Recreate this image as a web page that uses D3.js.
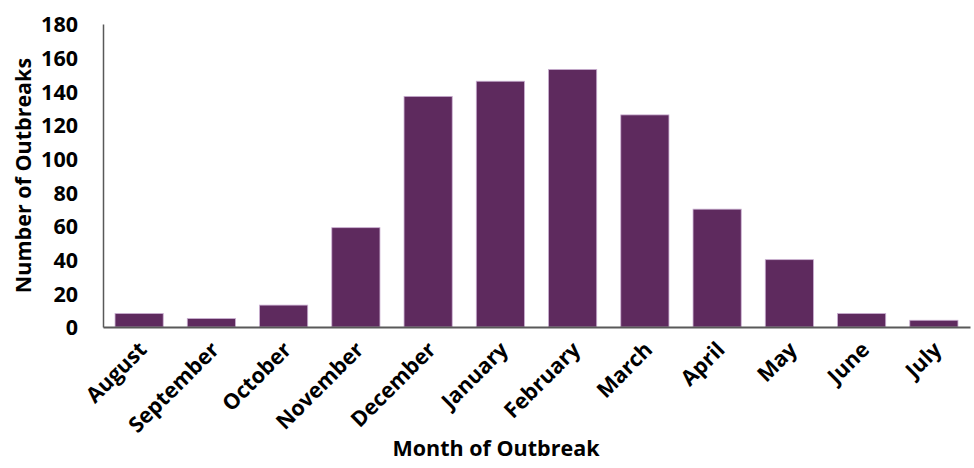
<!DOCTYPE html>
<html>
<head>
<meta charset="utf-8">
<script src="https://cdn.jsdelivr.net/npm/d3@7"></script>
<style>
  body { margin: 0; background: #fff; }
  text { font-family: "Open Sans", sans-serif; font-weight: 700; fill: #000; }
</style>
</head>
<body>
<div id="chart"></div>
<script>
// month order starts at August (season year)
const months = ['August', 'September', 'October', 'November', 'December', 'January',
  'February', 'March', 'April', 'May', 'June', 'July'];
const outbreaks = [8, 5, 13, 59, 137, 146, 153, 126, 70, 40, 8, 4];
const yTicks = [0, 20, 40, 60, 80, 100, 120, 140, 160, 180];

const width = 974, height = 468;
const margin = { top: 24, right: 4, bottom: 141, left: 103 };
const fontSize = '21.5px';

const svg = d3.select('#chart')
  .append('svg')
  .attr('width', width)
  .attr('height', height);

const x = d3.scaleBand()
  .domain(months)
  .range([margin.left, width - margin.right])
  .paddingInner(1 / 3)
  .paddingOuter(1 / 6);

const y = d3.scaleLinear()
  .domain([0, 180])
  .range([height - margin.bottom, margin.top]);

// bars
svg.append('g')
  .selectAll('rect')
  .data(months)
  .join('rect')
  .attr('x', d => x(d))
  .attr('y', (d, i) => y(outbreaks[i]))
  .attr('width', x.bandwidth())
  .attr('height', (d, i) => y(0) - y(outbreaks[i]))
  .attr('fill', '#5e2a5e')
  .attr('stroke', '#c9aed0')
  .attr('stroke-width', 0.8);

// y axis
const yAxis = svg.append('g')
  .attr('transform', `translate(${margin.left},0)`)
  .call(d3.axisLeft(y).tickValues(yTicks).tickSize(0).tickPadding(25));
yAxis.select('.domain').attr('stroke', '#595959').attr('stroke-width', 1.5);
yAxis.selectAll('text')
  .style('font-size', fontSize)
  .attr('dy', '0.36em');

// x axis
const xAxis = svg.append('g')
  .attr('transform', `translate(0,${y(0)})`)
  .call(d3.axisBottom(x).tickSize(0).tickPadding(0));
xAxis.select('.domain').attr('stroke', '#595959').attr('stroke-width', 1.8);
xAxis.selectAll('text')
  .style('font-size', fontSize)
  .attr('text-anchor', 'end')
  .attr('dy', null)
  .attr('y', 0)
  .attr('transform', 'translate(9,24) rotate(-45)');

// axis titles
svg.append('text')
  .attr('x', 496)
  .attr('y', 456)
  .attr('text-anchor', 'middle')
  .style('font-size', fontSize)
  .text('Month of Outbreak');

svg.append('text')
  .attr('transform', `translate(31,${(y(0) + y(180)) / 2}) rotate(-90)`)
  .attr('text-anchor', 'middle')
  .style('font-size', fontSize)
  .text('Number of Outbreaks');
</script>
</body>
</html>
